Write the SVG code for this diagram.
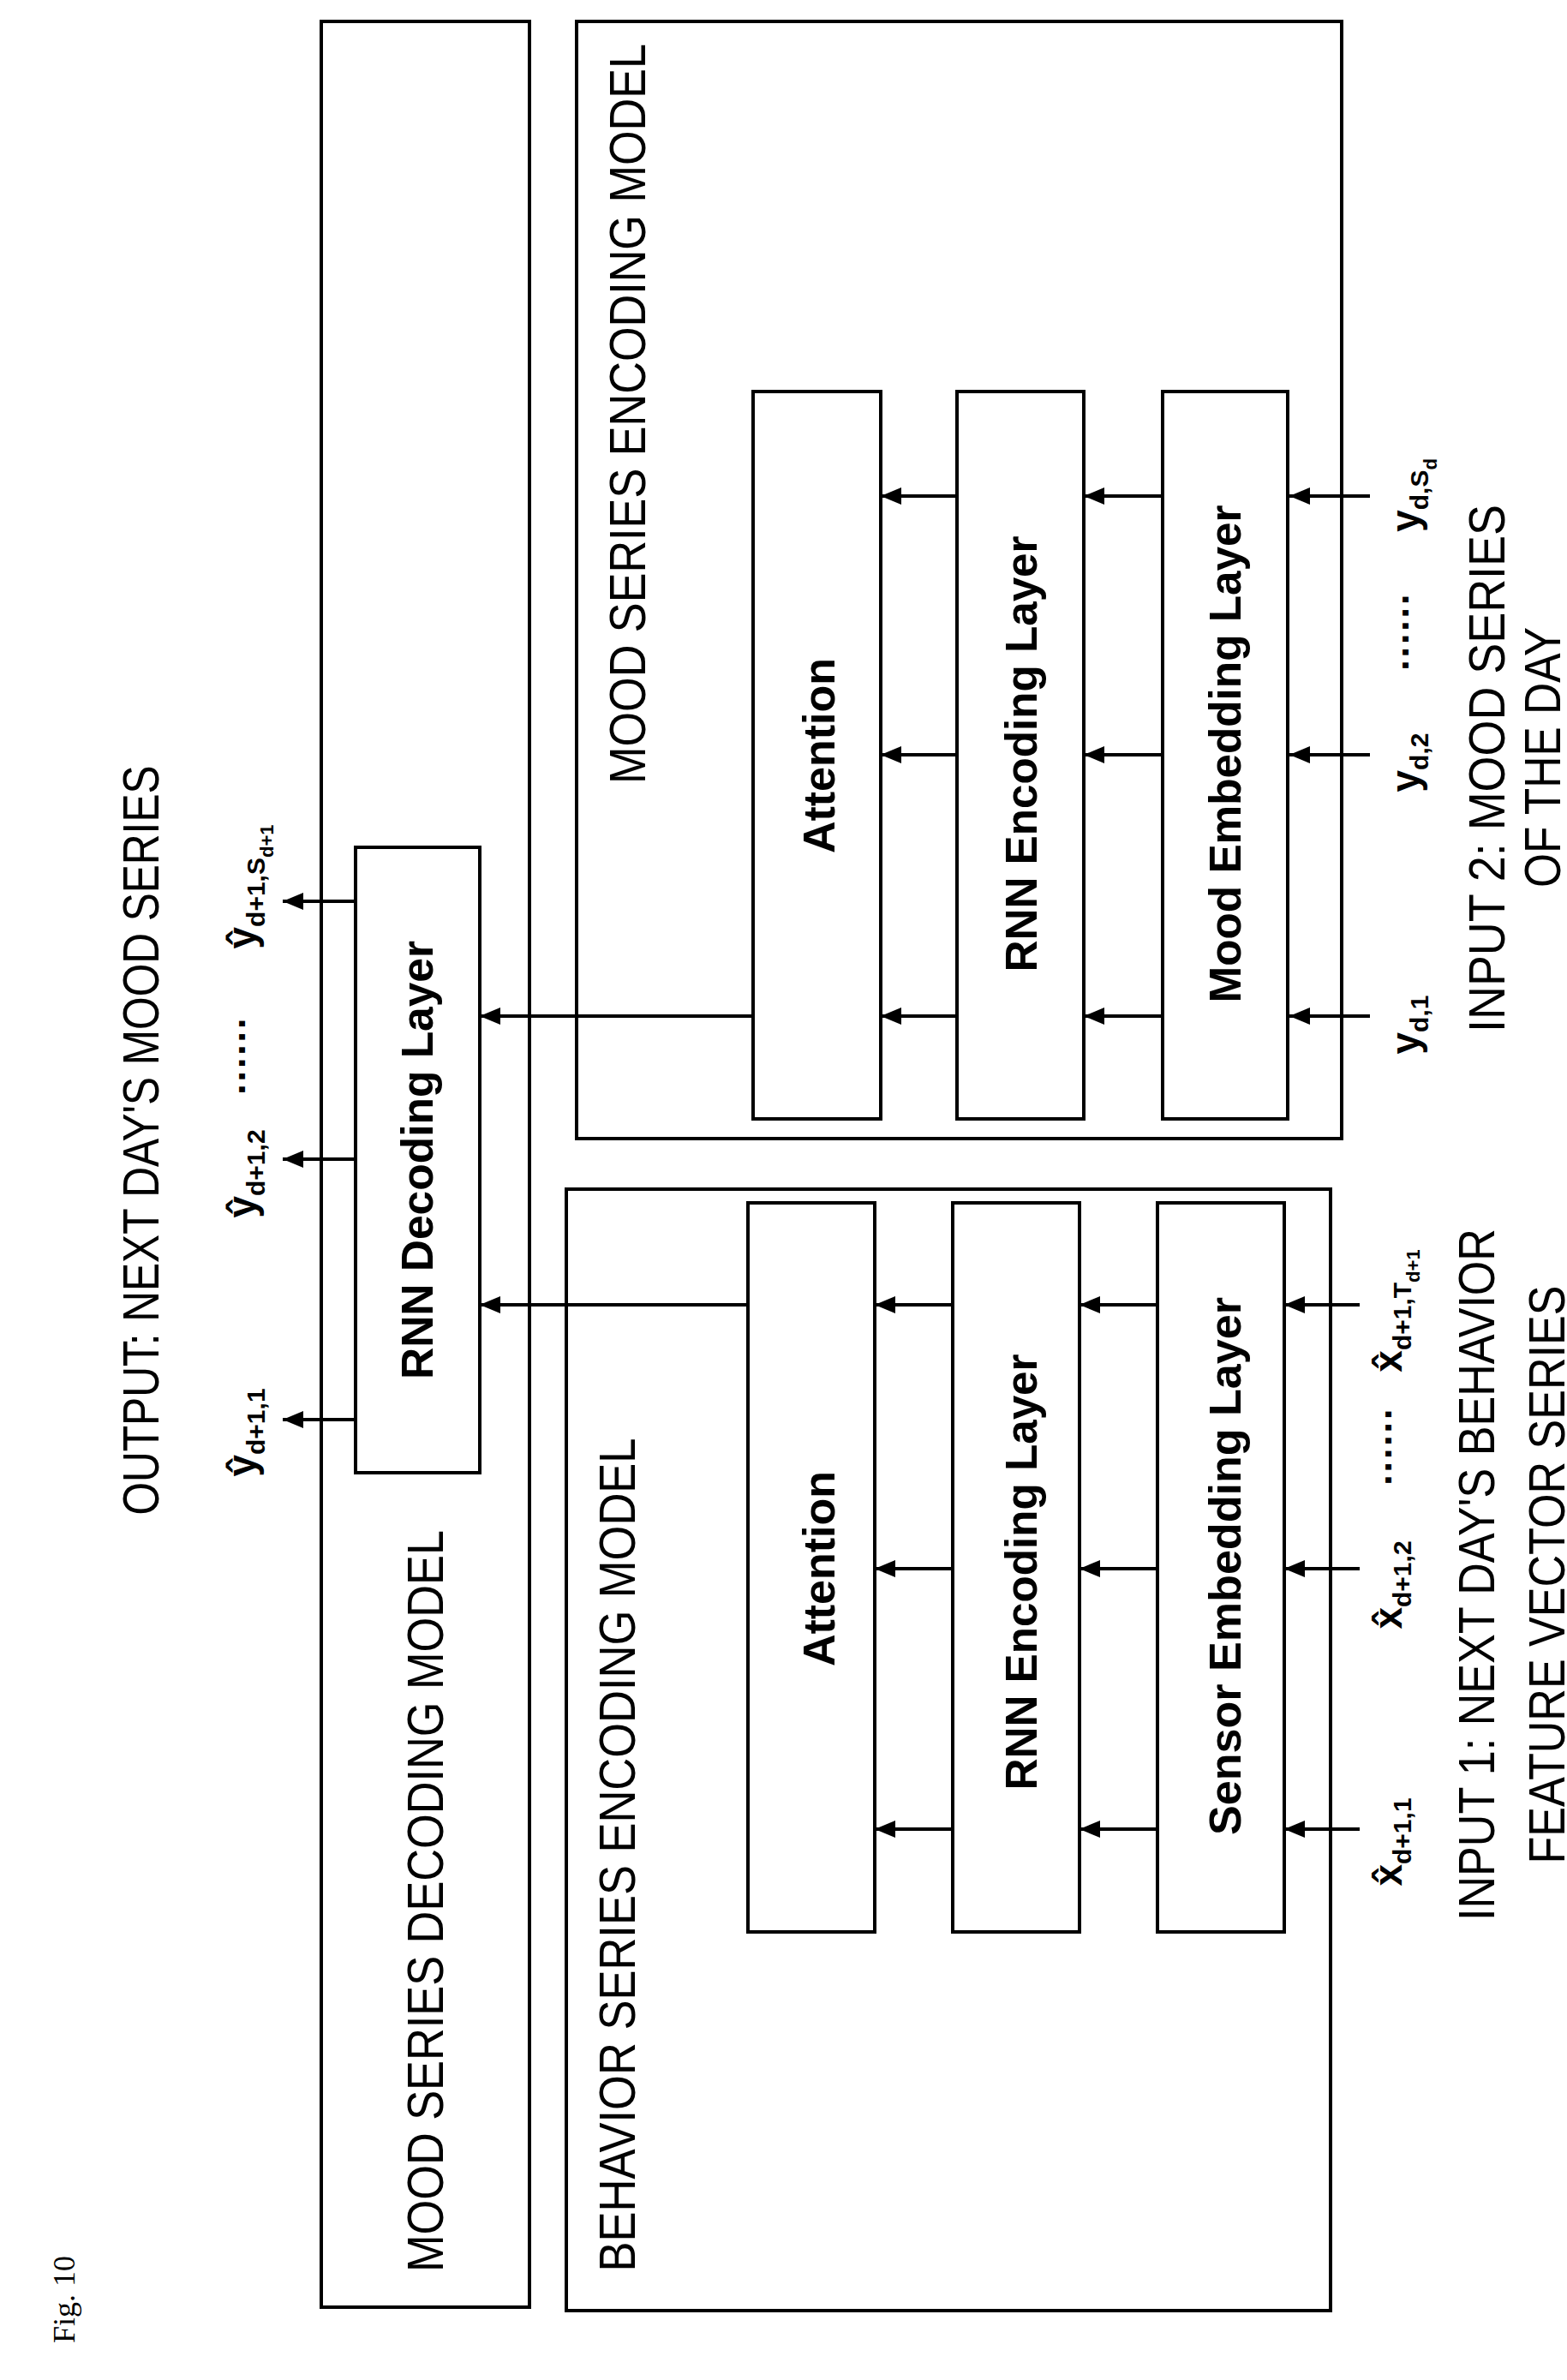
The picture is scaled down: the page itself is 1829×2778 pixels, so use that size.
<svg xmlns="http://www.w3.org/2000/svg" width="1829" height="2778" viewBox="0 0 1829 2778">
<defs>
<style>
.b{fill:none;stroke:#000;stroke-width:4}
.c{stroke:#000;stroke-width:4;fill:none;marker-end:url(#a)}
.t{font-family:"Liberation Sans",Arial,sans-serif;fill:#000;text-anchor:middle;dominant-baseline:central}
.big{font-size:60px}
.lb{font-size:52px;font-weight:bold}
.v{font-size:46px;font-weight:bold}
.s{font-size:30px}
</style>
<marker id="a" viewBox="0 0 24 20" refX="24" refY="10" markerWidth="24" markerHeight="20" orient="auto" markerUnits="userSpaceOnUse">
<path d="M0,0 L24,10 L0,20 Z" fill="#000"/>
</marker>
</defs>
<rect width="1829" height="2778" fill="#fff"/>
<text x="75" y="2684" font-family="Liberation Serif,serif" font-size="36" transform="rotate(-90 75 2684)" text-anchor="middle" dominant-baseline="central">Fig. 10</text>
<text class="t big" transform="translate(164,1331) rotate(-90)" textLength="875" lengthAdjust="spacingAndGlyphs">OUTPUT: NEXT DAY'S MOOD SERIES</text>
<g id="decoding-model"><rect class="b" x="375" y="25" width="243" height="2668"/>
<text class="t big" transform="translate(496,2219) rotate(-90)" textLength="866" lengthAdjust="spacingAndGlyphs">MOOD SERIES DECODING MODEL</text></g>
<g id="rnn-decoding"><rect class="b" x="415" y="989" width="145" height="730"/>
<text class="t lb" transform="translate(487,1354) rotate(-90)" textLength="512" lengthAdjust="spacingAndGlyphs">RNN Decoding Layer</text></g>
<g id="mood-encoding-model"><rect class="b" x="673" y="25" width="893" height="1304"/>
<text class="t big" transform="translate(732,483) rotate(-90)" textLength="864" lengthAdjust="spacingAndGlyphs">MOOD SERIES ENCODING MODEL</text></g>
<g id="behavior-encoding-model"><rect class="b" x="661" y="1388" width="892" height="1309"/>
<text class="t big" transform="translate(720,2165) rotate(-90)" textLength="973" lengthAdjust="spacingAndGlyphs">BEHAVIOR SERIES ENCODING MODEL</text></g>
<g id="mood-attention"><rect class="b" x="879" y="457" width="149" height="849"/><text class="t lb" transform="translate(956,882) rotate(-90)">Attention</text></g>
<g id="mood-rnn"><rect class="b" x="1117" y="457" width="148" height="849"/><text class="t lb" transform="translate(1192,880) rotate(-90)" textLength="509" lengthAdjust="spacingAndGlyphs">RNN Encoding Layer</text></g>
<g id="mood-embedding"><rect class="b" x="1357" y="457" width="146" height="849"/><text class="t lb" transform="translate(1430,880) rotate(-90)" textLength="581" lengthAdjust="spacingAndGlyphs">Mood Embedding Layer</text></g>
<g id="beh-attention"><rect class="b" x="873" y="1404" width="148" height="851"/><text class="t lb" transform="translate(956,1831) rotate(-90)">Attention</text></g>
<g id="beh-rnn"><rect class="b" x="1112" y="1404" width="148" height="851"/><text class="t lb" transform="translate(1192,1835) rotate(-90)" textLength="509" lengthAdjust="spacingAndGlyphs">RNN Encoding Layer</text></g>
<g id="sensor-embedding"><rect class="b" x="1351" y="1404" width="148" height="851"/><text class="t lb" transform="translate(1430,1828) rotate(-90)" textLength="628" lengthAdjust="spacingAndGlyphs">Sensor Embedding Layer</text></g>
<g id="connectors">
<path class="c" d="M1599,579H1505"/><path class="c" d="M1599,881H1505"/><path class="c" d="M1599,1186H1505"/>
<path class="c" d="M1357,579H1265"/><path class="c" d="M1357,881H1265"/><path class="c" d="M1357,1186H1265"/>
<path class="c" d="M1117,579H1028"/><path class="c" d="M1117,881H1028"/><path class="c" d="M1117,1186H1028"/>
<path class="c" d="M879,1186H560"/>
<path class="c" d="M1587,1523H1499"/><path class="c" d="M1587,1831H1499"/><path class="c" d="M1587,2135H1499"/>
<path class="c" d="M1351,1523H1260"/><path class="c" d="M1351,1831H1260"/><path class="c" d="M1351,2135H1260"/>
<path class="c" d="M1112,1523H1021"/><path class="c" d="M1112,1831H1021"/><path class="c" d="M1112,2135H1021"/>
<path class="c" d="M873,1523H560"/>
<path class="c" d="M415,1052H330"/><path class="c" d="M415,1353H330"/><path class="c" d="M415,1657H330"/>
</g>
<g id="labels">
<text class="t v" transform="translate(1640,1196) rotate(-90)">y<tspan class="s" baseline-shift="sub">d,1</tspan></text>
<text class="t v" transform="translate(1640,890) rotate(-90)">y<tspan class="s" baseline-shift="sub">d,2</tspan></text>
<text class="t v" transform="translate(1640,737) rotate(-90)">······</text>
<text class="t v" transform="translate(1640,578) rotate(-90)">y<tspan class="s" baseline-shift="sub">d,S<tspan font-size="22" baseline-shift="sub">d</tspan></tspan></text>
<text class="t v" transform="translate(282,1035) rotate(-90)">ŷ<tspan class="s" baseline-shift="sub">d+1,S<tspan font-size="22" baseline-shift="sub">d+1</tspan></tspan></text>
<text class="t v" transform="translate(282,1232) rotate(-90)">······</text>
<text class="t v" transform="translate(282,1370) rotate(-90)">ŷ<tspan class="s" baseline-shift="sub">d+1,2</tspan></text>
<text class="t v" transform="translate(282,1672) rotate(-90)">ŷ<tspan class="s" baseline-shift="sub">d+1,1</tspan></text>
<text class="t v" transform="translate(1620,2150) rotate(-90)">x̂<tspan class="s" baseline-shift="sub">d+1,1</tspan></text>
<text class="t v" transform="translate(1620,1850) rotate(-90)">x̂<tspan class="s" baseline-shift="sub">d+1,2</tspan></text>
<text class="t v" transform="translate(1620,1688) rotate(-90)">······</text>
<text class="t v" transform="translate(1620,1530) rotate(-90)">x̂<tspan class="s" baseline-shift="sub">d+1,T<tspan font-size="22" baseline-shift="sub">d+1</tspan></tspan></text>
<text class="t big" transform="translate(1735,897) rotate(-90)" textLength="616" lengthAdjust="spacingAndGlyphs">INPUT 2: MOOD SERIES</text>
<text class="t big" transform="translate(1800,884) rotate(-90)" textLength="304" lengthAdjust="spacingAndGlyphs">OF THE DAY</text>
<text class="t big" transform="translate(1723,1838) rotate(-90)" textLength="808" lengthAdjust="spacingAndGlyphs">INPUT 1: NEXT DAY'S BEHAVIOR</text>
<text class="t big" transform="translate(1805,1838) rotate(-90)" textLength="675" lengthAdjust="spacingAndGlyphs">FEATURE VECTOR SERIES</text>
</g>
</svg>
